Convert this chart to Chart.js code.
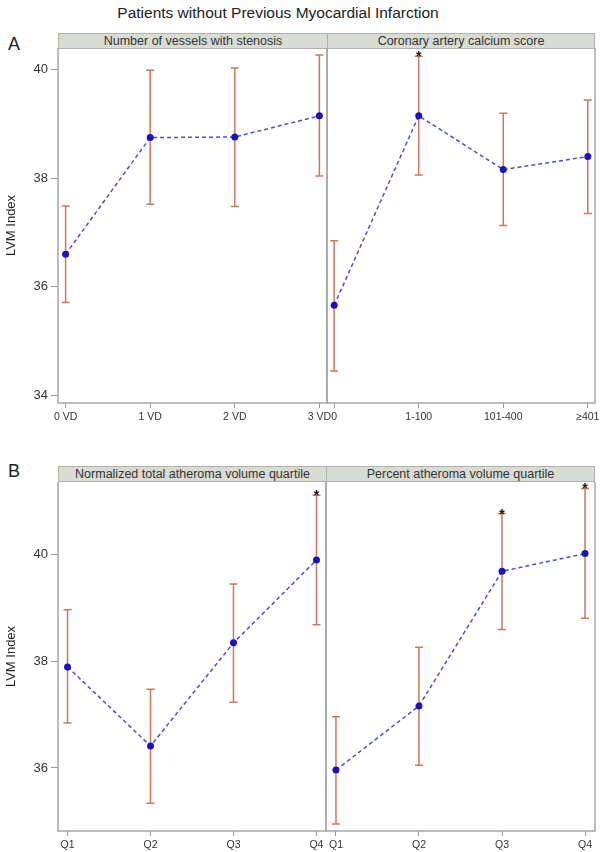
<!DOCTYPE html>
<html><head><meta charset="utf-8">
<script src="https://cdn.jsdelivr.net/npm/chart.js@4.4.1/dist/chart.umd.min.js"></script>
<style>
body{margin:0;background:#fff;font-family:"Liberation Sans",Arial,sans-serif;}
#wrap{position:relative;width:604px;height:852px;overflow:hidden;background:#fff;}
canvas{position:absolute;left:0;}
.t{position:absolute;color:#222;}
.strip{position:absolute;height:16px;background:#d9dcd3;border:1px solid #b0b2ad;box-sizing:border-box;font-size:12.5px;text-align:center;line-height:14px;color:#333;white-space:nowrap;}
</style></head>
<body><div id="wrap">
<div class="t" style="left:0;width:556px;top:4px;text-align:center;font-size:15.5px">Patients without Previous Myocardial Infarction</div>
<div class="t" style="left:8px;top:34px;font-size:18px">A</div>
<div class="t" style="left:8px;top:461px;font-size:18px">B</div>
<div class="strip" style="left:58px;top:33px;width:270px">Number of vessels with stenosis</div>
<div class="strip" style="left:327px;top:33px;width:268px">Coronary artery calcium score</div>
<div class="strip" style="left:58px;top:466px;width:269px">Normalized total atheroma volume quartile</div>
<div class="strip" style="left:326px;top:466px;width:269px">Percent atheroma volume quartile</div>
<canvas id="cVD" width="604" height="402" style="top:33px"></canvas>
<canvas id="cCAC" width="604" height="402" style="top:33px"></canvas>
<canvas id="cTAV" width="604" height="386" style="top:466px"></canvas>
<canvas id="cPAV" width="604" height="386" style="top:466px"></canvas>
</div>
<script>
// values (LVM index, mean with 95% CI)
const vdLabels = ['0 VD', '1 VD', '2 VD', '3 VD'];
const vdMean  = [36.60, 38.75, 38.76, 39.15];
const vdLower = [35.71, 37.52, 37.48, 38.04];
const vdUpper = [37.49, 39.99, 40.03, 40.27];
const vdStar  = [false, false, false, false];

const cacLabels = ['0', '1-100', '101-400', '≥401'];
const cacMean  = [35.66, 39.15, 38.16, 38.40];
const cacLower = [34.45, 38.06, 37.13, 37.35];
const cacUpper = [36.85, 40.25, 39.20, 39.44];
const cacStar  = [false, true, false, false];

const qLabels = ['Q1', 'Q2', 'Q3', 'Q4'];
const tavMean  = [37.89, 36.41, 38.34, 39.89];
const tavLower = [36.84, 35.34, 37.23, 38.68];
const tavUpper = [38.96, 37.47, 39.44, 41.10];
const tavStar  = [false, false, false, true];

const pavMean  = [35.96, 37.16, 39.68, 40.01];
const pavLower = [34.95, 36.05, 38.59, 38.80];
const pavUpper = [36.96, 38.26, 40.76, 41.23];
const pavStar  = [false, false, true, true];

const yTicksA = [34, 36, 38, 40];
const yTicksB = [36, 38, 40];

const FONT = '"Liberation Sans", Arial, sans-serif';

// error bars, frame and significance stars
const panelPlugin = {
  id: 'panel',
  beforeDatasetsDraw(chart) {
    const { ctx, chartArea: a, scales: { x, y } } = chart;
    const o = chart.options.plugins.panel;
    ctx.save();
    ctx.strokeStyle = '#a6a6a6'; ctx.lineWidth = 1.5;
    ctx.beginPath();
    ctx.moveTo(a.left, a.top); ctx.lineTo(a.left, a.bottom);
    ctx.lineTo(a.right, a.bottom); ctx.lineTo(a.right, a.top);
    ctx.stroke();
    ctx.strokeStyle = '#c87a5c'; ctx.lineWidth = 1.5;
    o.lo.forEach((lo, i) => {
      const px = x.getPixelForValue(i), p1 = y.getPixelForValue(lo), p2 = y.getPixelForValue(o.hi[i]);
      ctx.beginPath();
      ctx.moveTo(px, p1); ctx.lineTo(px, p2);
      ctx.moveTo(px - 4, p1); ctx.lineTo(px + 4, p1);
      ctx.moveTo(px - 4, p2); ctx.lineTo(px + 4, p2);
      ctx.stroke();
    });
    ctx.restore();
  },
  afterDatasetsDraw(chart) {
    const { ctx, scales: { x, y } } = chart;
    const o = chart.options.plugins.panel;
    ctx.save();
    ctx.fillStyle = '#111'; ctx.font = 'bold 14px ' + FONT; ctx.textAlign = 'center'; ctx.textBaseline = 'alphabetic';
    o.star.forEach((s, i) => {
      if (s) ctx.fillText('*', x.getPixelForValue(i), y.getPixelForValue(o.hi[i]) + 5);
    });
    ctx.restore();
  }
};

function makePanel(id, o) {
  new Chart(document.getElementById(id), {
    type: 'line',
    data: {
      datasets: [{
        data: o.mean.map((v, i) => ({ x: i, y: v })),
        borderColor: '#4c4cdc', borderWidth: 1.5, borderDash: [4, 3], tension: 0,
        pointRadius: 3.5, pointBackgroundColor: '#1c12b8', pointBorderColor: '#1c12b8', pointBorderWidth: 0,
        clip: false
      }]
    },
    options: {
      animation: false, responsive: false, events: [],
      layout: { padding: { left: o.padL, right: o.padR, top: o.padT, bottom: 0 } },
      plugins: { legend: { display: false }, tooltip: { enabled: false },
        panel: { lo: o.lower, hi: o.upper, star: o.star } },
      scales: {
        x: {
          type: 'linear', min: -o.xPad, max: o.labels.length - 1 + o.xPad,
          afterBuildTicks: s => { s.ticks = o.labels.map((_, i) => ({ value: i })); },
          afterFit: s => { s.height = o.xH; },
          ticks: { callback: v => o.labels[v], maxRotation: 0, autoSkip: false, padding: 3, color: '#333', font: { size: 10.5, family: FONT } },
          grid: { drawOnChartArea: false, tickLength: 5, color: '#9a9a9a' },
          border: { display: false }
        },
        y: {
          display: o.showY, min: o.yMin, max: o.yMax,
          afterBuildTicks: s => { s.ticks = o.yTicks.map(v => ({ value: v })); },
          afterFit: s => { s.width = o.showY ? 58 : 0; },
          ticks: { padding: 3, color: '#333', font: { size: 13, family: FONT } },
          grid: { drawOnChartArea: false, tickLength: 7, color: '#9a9a9a' },
          border: { display: false },
          title: { display: true, text: 'LVM Index', color: '#222', font: { size: 13, family: FONT } }
        }
      }
    },
    plugins: [panelPlugin]
  });
}

makePanel('cVD',  { labels: vdLabels, mean: vdMean, lower: vdLower, upper: vdUpper, star: vdStar,
  showY: true, padL: 0, padR: 277, padT: 15, xH: 32, xPad: 0.09, yMin: 33.86, yMax: 40.4, yTicks: yTicksA });
makePanel('cCAC', { labels: cacLabels, mean: cacMean, lower: cacLower, upper: cacUpper, star: cacStar,
  showY: false, padL: 327, padR: 9, padT: 15, xH: 32, xPad: 0.085, yMin: 33.86, yMax: 40.4, yTicks: yTicksA });
makePanel('cTAV', { labels: qLabels, mean: tavMean, lower: tavLower, upper: tavUpper, star: tavStar,
  showY: true, padL: 0, padR: 278, padT: 16, xH: 21, xPad: 0.115, yMin: 34.82, yMax: 41.35, yTicks: yTicksB });
makePanel('cPAV', { labels: qLabels, mean: pavMean, lower: pavLower, upper: pavUpper, star: pavStar,
  showY: false, padL: 326, padR: 9, padT: 16, xH: 21, xPad: 0.12, yMin: 34.82, yMax: 41.35, yTicks: yTicksB });
</script>
</body></html>
